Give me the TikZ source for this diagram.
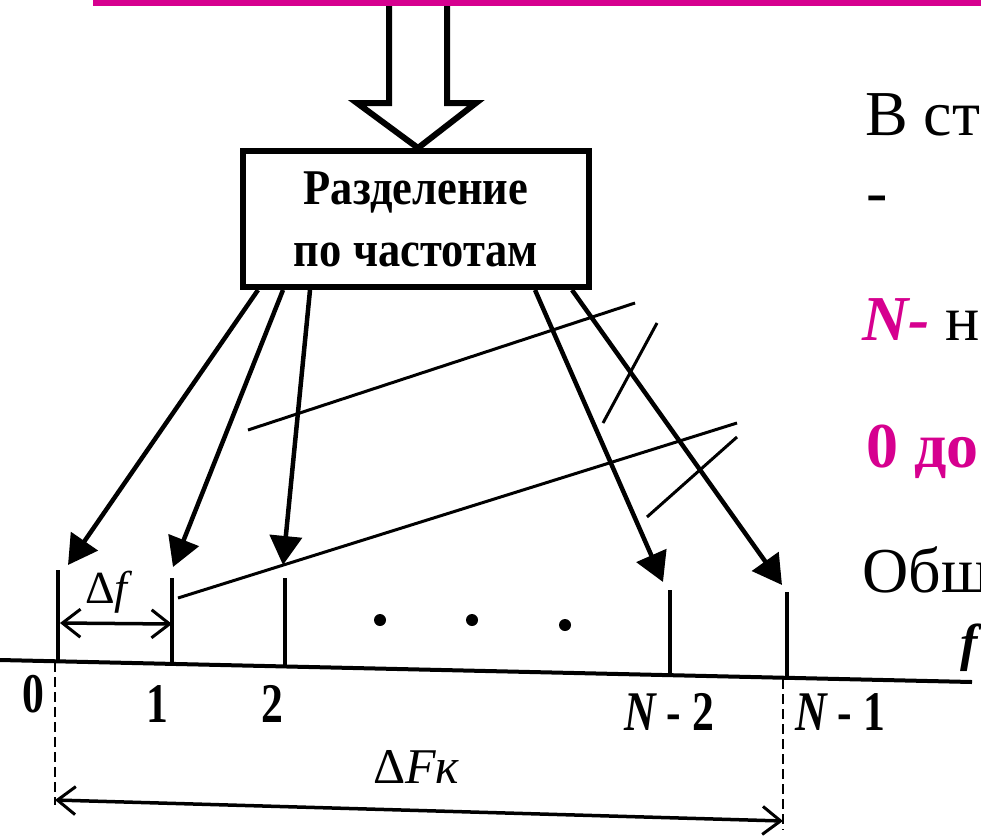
\documentclass[tikz,border=0pt]{standalone}
\usepackage{fontspec}
\setmainfont{Liberation Serif}
\newfontfamily\scanfont[FakeStretch=0.78]{Liberation Serif}
\newfontfamily\boxfont[FakeStretch=0.89]{Liberation Serif}
\usetikzlibrary{arrows.meta,calc}
\definecolor{mag}{RGB}{214,0,143}
\begin{document}
\begin{tikzpicture}[x=1pt,y=-1pt,
  bigarr/.style={line width=4.5pt,-{Triangle[length=29pt,width=32pt]}},
  dimarr/.style={line width=3.5pt,{Straight Barb[length=18pt,width=28pt,line width=3pt]}-{Straight Barb[length=18pt,width=28pt,line width=3pt]}},
  leader/.style={line width=3pt},
  tickline/.style={line width=4.5pt},
  guide/.style={line width=2.5pt,dash pattern=on 10pt off 5pt},
  lbl/.style={inner sep=0pt,anchor=base,font=\scanfont\bfseries\fontsize{56}{60}\selectfont},
  side/.style={inner sep=0pt,anchor=base west,font=\fontsize{64}{70}\selectfont},
]
\useasboundingbox (0,0) rectangle (981,835);
\clip (0,0) rectangle (981,835);

% box
\node[draw, line width=6pt, minimum width=346pt, minimum height=136pt, align=center, inner sep=0pt,
      font=\boxfont\bfseries\fontsize{50}{62}\selectfont] (box) at (416,219) {Разделение\\по частотам};

% hollow input arrow
\draw[line width=6pt, line join=miter, fill=white] (389,2) -- (389,103) -- (357,103) -- (box.north -| 418,0) -- (476,103) -- (447,103) -- (447,2);
\fill[mag] (93,0) rectangle (981,6);

% axis
\coordinate (axL) at (0,660);
\coordinate (axR) at (972,682);
\draw[line width=4pt] (axL) -- (axR);

% ticks
\coordinate (t0) at (58,570);  \coordinate (b0) at (58,662);
\coordinate (t1) at (172,578); \coordinate (b1) at (172,665);
\coordinate (t2) at (285,578); \coordinate (b2) at (285,667);
\coordinate (t3) at (670,590); \coordinate (b3) at (670,676);
\coordinate (t4) at (787,592); \coordinate (b4) at (787,679);
\foreach \i in {0,...,4} \draw[tickline] (t\i) -- (b\i);

% dots
\fill (380,620) circle (6pt);
\fill (472,620) circle (6pt);
\fill (565,625) circle (6pt);

% arrows from box
\coordinate (s1) at (258,290); \coordinate (e1) at (68,565);
\coordinate (s2) at (283,290); \coordinate (e2) at (173,567);
\coordinate (s3) at (310,290); \coordinate (e3) at (283,565);
\coordinate (s4) at (535,290); \coordinate (e4) at (663,582);
\coordinate (s5) at (572,290); \coordinate (e5) at (782,585);
\foreach \i in {1,...,5} \draw[bigarr] (s\i) -- (e\i);

% leader lines
\draw[leader] (248,430) -- (635,303);
\draw[leader] (603,423) -- (657,323);
\draw[leader] (178,598) -- (737,423);
\draw[leader] (647,517) -- (737,437);

% delta f
\coordinate (dfL) at (60,623); \coordinate (dfR) at (172,624);
\draw[dimarr] (dfL) -- (dfR);
\node[inner sep=0pt, anchor=base west, font=\fontsize{46}{50}\selectfont] (df) at (85,603) {Δ\itshape f};

% dashed guides and Delta F
\coordinate (gL1) at (55,662); \coordinate (gL2) at (55,805);
\coordinate (gR1) at (783,679); \coordinate (gR2) at (783,830);
\draw[guide] (gL1) -- (gL2);
\draw[guide] (gR1) -- (gR2);
\coordinate (FL) at (55,800); \coordinate (FR) at (783,821);
\draw[dimarr] (FL) -- (FR);
\node[inner sep=0pt, anchor=base west, font=\fontsize{50}{50}\selectfont] (dF) at (373,783) {Δ\itshape Fк};

% tick labels
\node[lbl] (l0) at (33,712) {0};
\node[lbl] (l1) at (157,722) {1};
\node[lbl] (l2) at (272,722) {2};
\node[lbl] (l3) at (669,730) {{\itshape N} - 2};
\node[lbl] (l4) at (840,730) {{\itshape N} - 1};
\node[inner sep=0pt, anchor=base west, font=\fontsize{52}{60}\selectfont\bfseries\itshape] (fl) at (960,660) {f};

% right text
\node[side] (r1) at (865,135) {В ст};
\node[side] (r2) at (866,213) {-};
\node[side] (r3) at (862,340) {\textcolor{mag}{\bfseries\itshape N-} н};
\node[side] (r4) at (866,467) {\color{mag}\bfseries 0 до};
\node[side] (r5) at (862,592) {Общ};
\end{tikzpicture}
\end{document}
